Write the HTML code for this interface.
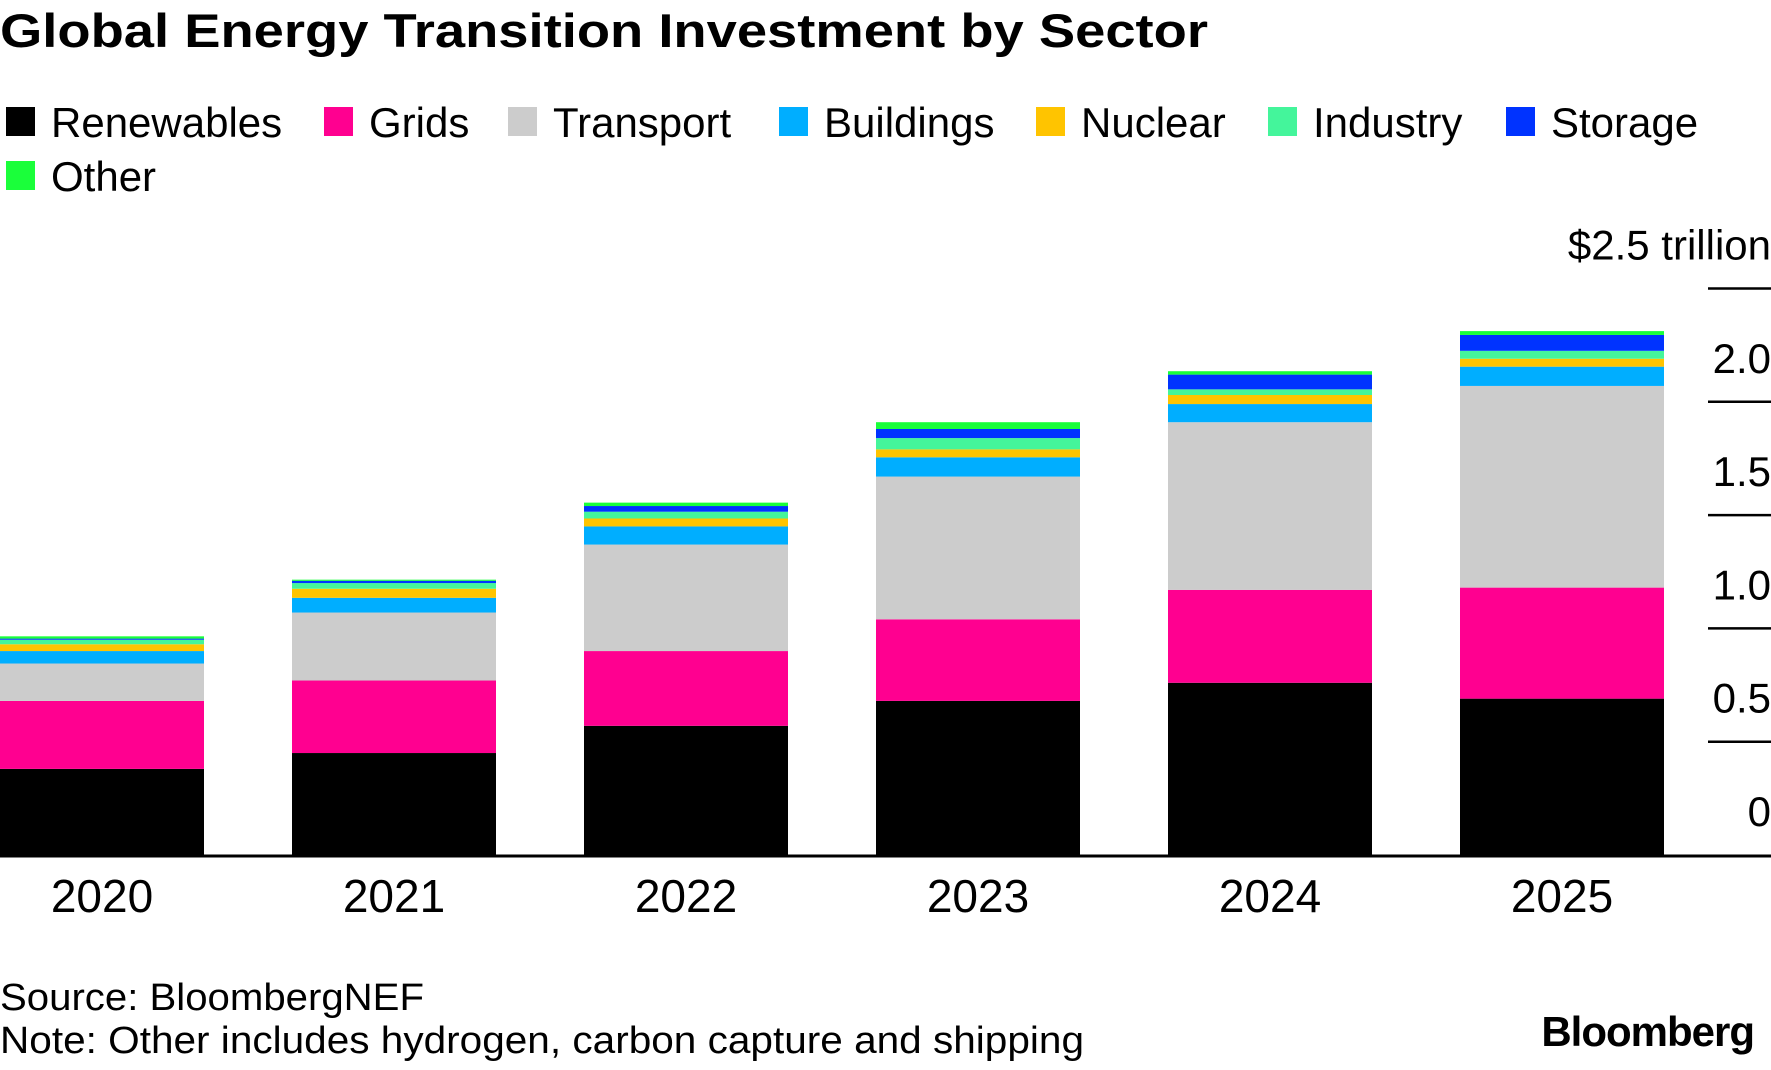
<!DOCTYPE html>
<html><head><meta charset="utf-8"><style>
body{margin:0;background:#fff;width:1771px;height:1065px;overflow:hidden;font-family:"Liberation Sans",sans-serif;}
</style></head><body>
<svg id="chart" width="1771" height="1065" xmlns="http://www.w3.org/2000/svg" font-family="Liberation Sans, sans-serif">
<text x="0" y="47" font-size="47" font-weight="bold" fill="#000" textLength="1208" lengthAdjust="spacingAndGlyphs">Global Energy Transition Investment by Sector</text>
<g id="legend"></g>
<g id="grid"></g>
<g id="bars"></g>
<g id="xlabels"></g>
<line x1="0" x2="1771" y1="856" y2="856" stroke="#000" stroke-width="3"/>
<text x="0" y="1010" font-size="38" fill="#000" textLength="424" lengthAdjust="spacingAndGlyphs">Source: BloombergNEF</text>
<text x="0" y="1053" font-size="38" fill="#000" textLength="1084" lengthAdjust="spacingAndGlyphs">Note: Other includes hydrogen, carbon capture and shipping</text>
<text x="1754" y="1046" text-anchor="end" font-size="42" font-weight="bold" fill="#000" letter-spacing="-1">Bloomberg</text>
</svg>
<script>
const years = ["2020","2021","2022","2023","2024","2025"];
const sectors = ["Renewables","Grids","Transport","Buildings","Nuclear","Industry","Storage","Other"];
const colors = ["#000000","#ff0090","#cccccc","#00aeff","#ffc400","#44f59b","#0033ff","#1aff3a"];
const renewables = [0.38,0.45,0.57,0.68,0.76,0.69];
const grids = [0.30,0.32,0.33,0.36,0.41,0.49];
const transport = [0.165,0.30,0.47,0.63,0.74,0.89];
const buildings = [0.055,0.065,0.08,0.085,0.08,0.085];
const nuclear = [0.03,0.04,0.035,0.035,0.04,0.035];
const industry = [0.02,0.025,0.03,0.05,0.025,0.035];
const storage = [0.005,0.01,0.025,0.04,0.065,0.07];
const other = [0.01,0.005,0.015,0.03,0.015,0.017];
const yTicks = [0,0.5,1.0,1.5,2.0,2.5];
const yTickLabels = ["0","0.5","1.0","1.5","2.0","$2.5 trillion"];

const series = [renewables,grids,transport,buildings,nuclear,industry,storage,other];
const NS = "http://www.w3.org/2000/svg";
const baseY = 855, pxPerUnit = 226.6, pitch = 292, barW = 204;
const y = v => baseY - v * pxPerUnit;
const x = i => i * pitch;
function mk(tag, attrs, parent){const e=document.createElementNS(NS,tag);for(const k in attrs)e.setAttribute(k,attrs[k]);parent.appendChild(e);return e;}

const grid = document.getElementById('grid');
yTicks.forEach((t,i)=>{
  if(t>0){
    const l = mk('line',{x1:1708,x2:1771,y1:y(t),y2:y(t),stroke:'#000','stroke-width':2.5},grid);
    
    
  }
  const tx = mk('text',{x:1771,y:y(t)-29,'text-anchor':'end','font-size':42,fill:'#000'},grid);
  tx.textContent = yTickLabels[i];
  
  
});

const bars = document.getElementById('bars');
years.forEach((yr,i)=>{
  let cum = 0;
  series.forEach((s,k)=>{
    const v = s[i];
    const r = mk('rect',{x:x(i),y:y(cum+v),width:barW,height:v*pxPerUnit,fill:colors[k]},bars);
    
    
    cum += v;
  });
});

const xl = document.getElementById('xlabels');
years.forEach((yr,i)=>{
  const t = mk('text',{x:x(i)+barW/2,y:912,'text-anchor':'middle','font-size':46,fill:'#000'},xl);
  t.textContent = yr;
  
  
});

const legendPos = [[6,122],[324,122],[508,122],[779,122],[1036,122],[1268,122],[1506,122],[6,176]];
const lg = document.getElementById('legend');
sectors.forEach((s,k)=>{
  const g = mk('g',{},lg);
  
  
  const [lx,ly] = legendPos[k];
  mk('rect',{x:lx,y:ly-15,width:29,height:29,fill:colors[k]},g);
  const t = mk('text',{x:lx+45,y:ly+15,'font-size':42,fill:'#000'},g);
  t.textContent = s;
});
</script>
</body></html>
